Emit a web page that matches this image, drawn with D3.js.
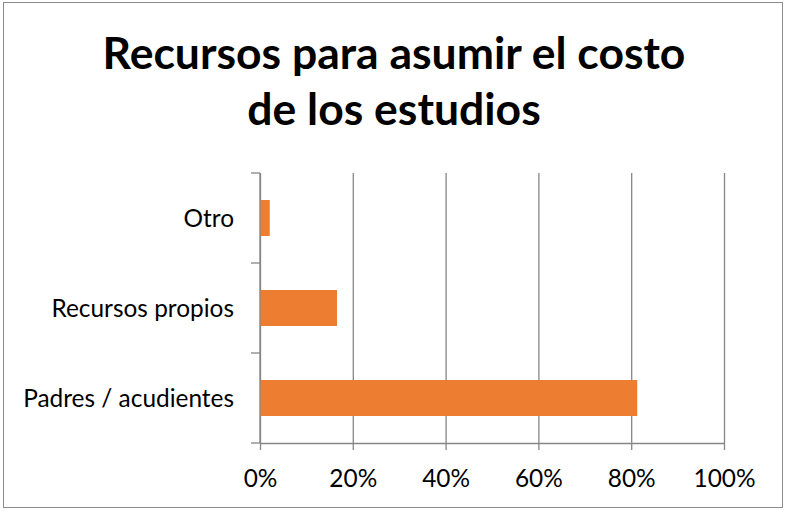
<!DOCTYPE html>
<html>
<head>
<meta charset="utf-8">
<script src="https://cdn.jsdelivr.net/npm/d3@7"></script>
<style>
  html, body { margin: 0; padding: 0; background: #fff; }
  svg { display: block; }
</style>
</head>
<body>
<svg id="chart" width="785" height="510"></svg>
<script>
const titleLines = ["Recursos para asumir el costo", "de los estudios"];
const categories = ["Otro", "Recursos propios", "Padres / acudientes"];
const values = [0.021, 0.166, 0.813];
const xTicks = [0, 0.2, 0.4, 0.6, 0.8, 1.0];

const W = 785, H = 510;
const svg = d3.select("#chart");
const gray = "#868686";
const orange = "#ED7D31";
const FONT = "Lato, 'Open Sans', 'DejaVu Sans', sans-serif";

svg.append("rect").attr("x", 0).attr("y", 0).attr("width", W).attr("height", H).attr("fill", "#fff");
svg.append("rect").attr("x", 3.5).attr("y", 2.5).attr("width", 779).attr("height", 505)
  .attr("fill", "none").attr("stroke", "#8c8c8c").attr("stroke-width", 1);

// fit helper
function fitSize(text, weight, targetWidth, base) {
  const t = svg.append("text").attr("font-family", FONT).attr("font-weight", weight)
    .attr("font-size", base).text(text);
  const w = t.node().getComputedTextLength();
  t.remove();
  return base * targetWidth / w;
}

// Title
const titleSize = fitSize(titleLines[0], 700, 583, 46);
const titleBaselines = [69, 125];
titleLines.forEach((line, i) => {
  svg.append("text")
    .attr("x", 394).attr("y", titleBaselines[i])
    .attr("text-anchor", "middle")
    .attr("font-family", FONT).attr("font-weight", 700)
    .attr("font-size", titleSize).attr("fill", "#000")
    .text(line);
});

const labelSize = fitSize("Padres / acudientes", 400, 211, 24);

const x = d3.scaleLinear().domain([0, 1]).range([260, 724]);
const y = d3.scaleBand().domain(categories).range([173, 443]).paddingInner(0.6).paddingOuter(0.3);
const [y0, y1] = y.range();

// gridlines
const grid = svg.append("g").attr("transform", `translate(0,${y1})`)
  .call(d3.axisBottom(x).tickValues(xTicks).tickSize(-(y1 - y0)).tickFormat(""));
grid.select(".domain").remove();
grid.selectAll(".tick line").attr("stroke", gray).attr("stroke-width", 1.3);

// bars
svg.append("g").selectAll("rect").data(categories).join("rect")
  .attr("x", x(0))
  .attr("y", d => y(d))
  .attr("width", (d, i) => x(values[i]) - x(0))
  .attr("height", y.bandwidth())
  .attr("fill", orange);

// bottom axis
const xAxis = svg.append("g").attr("transform", `translate(0,${y1})`)
  .call(d3.axisBottom(x).tickValues(xTicks).tickFormat(d3.format(".0%")).tickSizeInner(7).tickSizeOuter(0));
xAxis.select(".domain").attr("stroke", gray).attr("stroke-width", 1.3);
xAxis.selectAll(".tick line").attr("stroke", gray).attr("stroke-width", 1.3);
xAxis.selectAll(".tick text")
  .attr("y", 487 - y1).attr("dy", 0)
  .attr("font-family", FONT).attr("font-size", labelSize).attr("fill", "#000");

// left axis
svg.append("line").attr("x1", x(0)).attr("x2", x(0)).attr("y1", y0).attr("y2", y1)
  .attr("stroke", gray).attr("stroke-width", 1.3);
const boundaries = d3.range(categories.length + 1).map(i => y0 + i * (y1 - y0) / categories.length);
svg.append("g").selectAll("line").data(boundaries).join("line")
  .attr("x1", x(0) - 9).attr("x2", x(0)).attr("y1", d => d).attr("y2", d => d)
  .attr("stroke", gray).attr("stroke-width", 1.3);

svg.append("g").selectAll("text").data(categories).join("text")
  .attr("x", 234)
  .attr("y", d => y(d) + y.bandwidth() / 2)
  .attr("dy", "0.35em")
  .attr("text-anchor", "end")
  .attr("font-family", FONT).attr("font-size", labelSize).attr("fill", "#000")
  .text(d => d);
</script>
</body>
</html>
